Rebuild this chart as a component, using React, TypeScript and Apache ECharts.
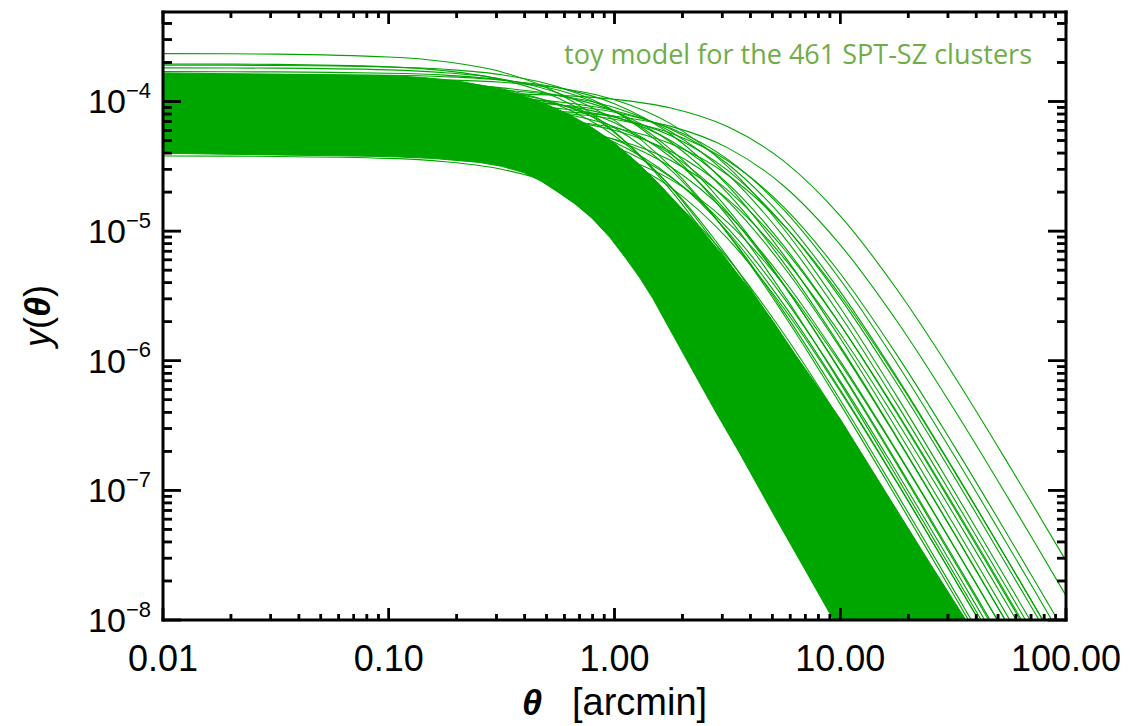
import React, { useEffect, useRef } from 'react';
import * as echarts from 'echarts';

// angular radius grid (arcmin) shared by every profile
const THETA = [0.01, 0.03162, 0.1, 0.1778, 0.3162, 0.5623, 1, 1.778, 3.162, 5.623, 10, 17.78, 31.62, 56.23, 100];

// log10 y(theta) of individual, visible cluster profiles
const profile01 = [-3.631, -3.635, -3.657, -3.693, -3.772, -3.936, -4.232, -4.686, -5.272, -5.943, -6.657, -7.392, -8.135];
const profile02 = [-3.711, -3.714, -3.733, -3.763, -3.831, -3.974, -4.24, -4.663, -5.227, -5.884, -6.592, -7.324, -8.066];
const profile03 = [-3.741, -3.743, -3.756, -3.778, -3.827, -3.935, -4.146, -4.505, -5.017, -5.643, -6.335, -7.059, -7.798, -8.545];
const profile04 = [-3.77, -3.772, -3.782, -3.797, -3.833, -3.912, -4.076, -4.372, -4.826, -5.412, -6.083, -6.797, -7.532, -8.275];
const profile05 = [-3.79, -3.791, -3.798, -3.809, -3.835, -3.893, -4.017, -4.255, -4.646, -5.185, -5.827, -6.528, -7.256, -7.997, -8.745];
const profile06 = [-3.801, -3.804, -3.819, -3.845, -3.903, -4.027, -4.265, -4.656, -5.195, -5.837, -6.538, -7.266, -8.007];
const profile07 = [-3.82, -3.821, -3.826, -3.834, -3.852, -3.894, -3.987, -4.173, -4.5, -4.984, -5.591, -6.273, -6.993, -7.73, -8.475];
const profile08 = [-3.93, -3.93, -3.931, -3.934, -3.94, -3.953, -3.983, -4.051, -4.194, -4.46, -4.883, -5.447, -6.104, -6.812, -7.544];
const profile09 = [-4.05, -4.05, -4.052, -4.055, -4.062, -4.077, -4.113, -4.192, -4.356, -4.652, -5.106, -5.692, -6.363, -7.077, -7.812];
const profile10 = [-4.05, -4.051, -4.053, -4.057, -4.066, -4.088, -4.137, -4.245, -4.456, -4.815, -5.327, -5.953, -6.645, -7.369, -8.108];
const profile11 = [-4.1, -4.101, -4.104, -4.108, -4.119, -4.145, -4.203, -4.327, -4.565, -4.956, -5.495, -6.137, -6.838, -7.566, -8.307];
const profile12 = [-4.15, -4.151, -4.155, -4.162, -4.177, -4.213, -4.292, -4.456, -4.752, -5.206, -5.792, -6.463, -7.177, -7.912, -8.655];
const profile13 = [-3.95, -3.951, -3.954, -3.96, -3.973, -4.003, -4.071, -4.214, -4.48, -4.903, -5.467, -6.124, -6.832, -7.564, -8.306];
const profile14 = [-4.0, -4.001, -4.007, -4.016, -4.038, -4.087, -4.195, -4.406, -4.765, -5.277, -5.903, -6.595, -7.319, -8.058];
const profile15 = [-4.1, -4.101, -4.107, -4.116, -4.138, -4.187, -4.295, -4.506, -4.865, -5.377, -6.003, -6.695, -7.419, -8.158];
const profile16 = [-4.05, -4.051, -4.06, -4.073, -4.103, -4.171, -4.314, -4.58, -5.003, -5.567, -6.224, -6.932, -7.664, -8.406];
const profile17 = [-3.9, -3.901, -3.91, -3.923, -3.953, -4.021, -4.164, -4.43, -4.853, -5.417, -6.074, -6.782, -7.514, -8.256];
const profile18 = [-4.2, -4.201, -4.208, -4.219, -4.245, -4.303, -4.427, -4.665, -5.056, -5.595, -6.237, -6.938, -7.666, -8.407];
const profile19 = [-3.95, -3.951, -3.956, -3.964, -3.982, -4.024, -4.117, -4.303, -4.63, -5.114, -5.721, -6.403, -7.123, -7.86, -8.605];
const profile20 = [-4.15, -4.152, -4.162, -4.177, -4.213, -4.292, -4.456, -4.752, -5.206, -5.792, -6.463, -7.177, -7.912, -8.655];
const profile21 = [-3.85, -3.852, -3.864, -3.882, -3.924, -4.017, -4.203, -4.53, -5.014, -5.621, -6.303, -7.023, -7.76, -8.505];
const profile22 = [-4.421, -4.424, -4.439, -4.465, -4.523, -4.647, -4.885, -5.276, -5.815, -6.457, -7.158, -7.886, -8.627];
const profile23 = [-3.85, -3.851, -3.858, -3.869, -3.895, -3.953, -4.077, -4.315, -4.706, -5.245, -5.887, -6.588, -7.316, -8.057];
const profile24 = [-3.98, -3.981, -3.984, -3.988, -3.999, -4.025, -4.083, -4.207, -4.445, -4.836, -5.375, -6.017, -6.718, -7.446, -8.187];
const profile25 = [-4.08, -4.081, -4.085, -4.092, -4.107, -4.143, -4.222, -4.386, -4.682, -5.136, -5.722, -6.393, -7.107, -7.842, -8.585];
const profile26 = [-3.88, -3.881, -3.886, -3.894, -3.912, -3.954, -4.047, -4.233, -4.56, -5.044, -5.651, -6.333, -7.053, -7.79, -8.535];
const profile27 = [-4.25, -4.251, -4.256, -4.264, -4.282, -4.324, -4.417, -4.603, -4.93, -5.414, -6.021, -6.703, -7.423, -8.16];
const profile28 = [-3.72, -3.722, -3.734, -3.752, -3.794, -3.887, -4.073, -4.4, -4.884, -5.491, -6.173, -6.893, -7.63, -8.375];
const profile29 = [-4.0, -4.001, -4.004, -4.01, -4.023, -4.053, -4.121, -4.264, -4.53, -4.953, -5.517, -6.174, -6.882, -7.614, -8.356];
const profile30 = [-4.12, -4.121, -4.128, -4.139, -4.165, -4.223, -4.347, -4.585, -4.976, -5.515, -6.157, -6.858, -7.586, -8.327];

const PROFILES = [
  profile01, profile02, profile03, profile04, profile05, profile06, profile07, profile08,
  profile09, profile10, profile11, profile12, profile13, profile14, profile15, profile16,
  profile17, profile18, profile19, profile20, profile21, profile22, profile23, profile24,
  profile25, profile26, profile27, profile28, profile29, profile30,
];

// outline of the region where the 461 profiles overlap into solid colour
const BAND_UPPER_THETA = [
  0.01, 0.1, 0.1413, 0.1995, 0.2661, 0.3548, 0.4732, 0.631, 0.7943, 1, 1.259, 1.585, 1.995,
  2.512, 3.162, 3.981, 5.012, 6.31, 7.943, 10, 13.34, 17.78, 25.12, 36.06,
];
const BAND_UPPER_LOGY = [
  -3.78, -3.8, -3.815, -3.84, -3.88, -3.93, -4.005, -4.1, -4.2, -4.32, -4.47, -4.64, -4.83,
  -5.02, -5.23, -5.45, -5.69, -5.95, -6.2, -6.45, -6.8, -7.15, -7.57, -8.0,
];
const BAND_LOWER_THETA = [
  9.333, 7.079, 5.012, 3.548, 2.818, 2.344, 1.995, 1.698, 1.479, 1.288, 1.122, 0.955,
  0.7943, 0.6683, 0.5623, 0.4732, 0.3981, 0.3162, 0.2512, 0.1585, 0.1, 0.01,
];
const BAND_LOWER_LOGY = [
  -8.0, -7.63, -7.17, -6.7, -6.4, -6.15, -5.93, -5.71, -5.52, -5.355, -5.21, -5.05,
  -4.9, -4.79, -4.7, -4.615, -4.55, -4.5, -4.47, -4.44, -4.425, -4.4,
];

const X_MAJOR = [0.01, 0.1, 1, 10, 100];
const X_MINOR = [
  0.02, 0.03, 0.04, 0.05, 0.06, 0.07, 0.08, 0.09,
  0.2, 0.3, 0.4, 0.5, 0.6, 0.7, 0.8, 0.9,
  2, 3, 4, 5, 6, 7, 8, 9,
  20, 30, 40, 50, 60, 70, 80, 90,
];
const Y_MAJOR = [1e-8, 1e-7, 1e-6, 1e-5, 1e-4];
const Y_MINOR = [
  2e-8, 3e-8, 4e-8, 5e-8, 6e-8, 7e-8, 8e-8, 9e-8,
  2e-7, 3e-7, 4e-7, 5e-7, 6e-7, 7e-7, 8e-7, 9e-7,
  2e-6, 3e-6, 4e-6, 5e-6, 6e-6, 7e-6, 8e-6, 9e-6,
  2e-5, 3e-5, 4e-5, 5e-5, 6e-5, 7e-5, 8e-5, 9e-5,
  2e-4, 3e-4, 4e-4,
];
const X_RANGE = [0.01, 100];
const Y_RANGE = [1e-8, 4.9e-4];

const TITLE = 'toy model for the 461 SPT-SZ clusters';
const X_NAME = '{t|θ}{a|[arcmin]}';
const Y_NAME = '{i|y}{p|(}{t|θ}{p|)}';

const GREEN = '#00A600';
const TITLE_GREEN = '#70AD47';
const FONT = '"Liberation Sans", Arial, sans-serif';
const TICK_W = 2.5;
const TICK_COLOR = '#000';

// inward x ticks mirrored on bottom and top edges
function xTickSeries(vals: number[], len: number) {
  return {
    type: 'custom',
    clip: false,
    silent: true,
    z: 10,
    data: vals.map((v) => [v, Y_RANGE[0]]),
    renderItem: (params: any, api: any) => {
      const cs = params.coordSys;
      const px = api.coord([api.value(0), Y_RANGE[0]])[0];
      return {
        type: 'group',
        children: [
          { type: 'rect', shape: { x: px - TICK_W / 2, y: cs.y + cs.height - len, width: TICK_W, height: len }, style: { fill: TICK_COLOR } },
          { type: 'rect', shape: { x: px - TICK_W / 2, y: cs.y, width: TICK_W, height: len }, style: { fill: TICK_COLOR } },
        ],
      };
    },
  };
}

// inward y ticks mirrored on left and right edges
function yTickSeries(vals: number[], len: number) {
  return {
    type: 'custom',
    clip: false,
    silent: true,
    z: 10,
    data: vals.map((v) => [1, v]),
    renderItem: (params: any, api: any) => {
      const cs = params.coordSys;
      const py = api.coord([1, api.value(1)])[1];
      return {
        type: 'group',
        children: [
          { type: 'rect', shape: { x: cs.x, y: py - TICK_W / 2, width: len, height: TICK_W }, style: { fill: TICK_COLOR } },
          { type: 'rect', shape: { x: cs.x + cs.width - len, y: py - TICK_W / 2, width: len, height: TICK_W }, style: { fill: TICK_COLOR } },
        ],
      };
    },
  };
}

export default function App() {
  const ref = useRef<HTMLDivElement>(null);

  useEffect(() => {
    if (!ref.current) return;
    const chart = echarts.init(ref.current, null, { renderer: 'svg' });

    const lineSeries = PROFILES.map((p) => ({
      type: 'line',
      data: p.map((ly, i) => [THETA[i], Math.pow(10, ly)]),
      showSymbol: false,
      symbol: 'none',
      smooth: 0.35,
      clip: true,
      silent: true,
      lineStyle: { color: GREEN, width: 1.1 },
      z: 3,
    }));

    const bandSeries = {
      type: 'custom',
      clip: false,
      silent: true,
      z: 2,
      data: [[1, 1e-5]],
      renderItem: (_params: any, api: any) => {
        const pts: number[][] = [];
        BAND_UPPER_THETA.forEach((t, i) => pts.push(api.coord([t, Math.pow(10, BAND_UPPER_LOGY[i])])));
        BAND_LOWER_THETA.forEach((t, i) => pts.push(api.coord([t, Math.pow(10, BAND_LOWER_LOGY[i])])));
        return {
          type: 'polygon',
          shape: { points: pts },
          style: { fill: GREEN, stroke: GREEN, lineWidth: 1 },
        };
      },
    };

    const frameSeries = {
      type: 'custom',
      clip: false,
      silent: true,
      z: 11,
      data: [[1, 1e-5]],
      renderItem: (params: any) => {
        const cs = params.coordSys;
        const f = (x: number, y: number, w: number, h: number) => ({
          type: 'rect',
          shape: { x, y, width: w, height: h },
          style: { fill: '#000' },
        });
        return {
          type: 'group',
          children: [
            f(cs.x - 1.5, cs.y - 1.5, cs.width + 3, 3),
            f(cs.x - 1.5, cs.y + cs.height - 1.5, cs.width + 3, 3),
            f(cs.x - 1.5, cs.y - 1.5, 3, cs.height + 3),
            f(cs.x + cs.width - 1.5, cs.y - 1.5, 3, cs.height + 3),
          ],
        };
      },
    };

    const titleGraphic = {
      type: 'text',
      x: 1032,
      y: 53,
      silent: true,
      style: {
        text: TITLE,
        fill: TITLE_GREEN,
        fontSize: 27,
        fontFamily: '"Open Sans", sans-serif',
        align: 'right',
        verticalAlign: 'middle',
      },
    };

    chart.setOption({
      animation: false,
      backgroundColor: '#fff',
      grid: { left: 163, top: 12, width: 903, height: 608, containLabel: false, outerBoundsMode: 'none' },
      xAxis: {
        type: 'log',
        logBase: 10,
        min: X_RANGE[0],
        max: X_RANGE[1],
        position: 'bottom',
        axisLine: { show: false },
        axisTick: { show: false },
        axisLabel: {
          show: true,
          customValues: X_MAJOR,
          formatter: (v: number) => v.toFixed(2),
          margin: 20,
          fontSize: 36,
          fontFamily: FONT,
          color: '#000',
        },
        splitLine: { show: false },
        minorTick: { show: false },
        name: X_NAME,
        nameLocation: 'middle',
        nameGap: 63,
        nameTextStyle: {
          color: '#000',
          rich: {
            t: { fontSize: 36, fontFamily: FONT, fontStyle: 'italic', fontWeight: 'bold', color: '#000' },
            a: { fontSize: 38, fontFamily: FONT, color: '#000', padding: [0, 0, 0, 30] },
          },
        },
      },
      yAxis: {
        type: 'log',
        logBase: 10,
        min: Y_RANGE[0],
        max: Y_RANGE[1],
        position: 'left',
        axisLine: { show: false },
        axisTick: { show: false },
        axisLabel: {
          show: true,
          customValues: Y_MAJOR,
          formatter: (v: number) => {
            const e = Math.round(Math.log10(v));
            return '{b|10}{s|\u2212' + String(-e) + '}';
          },
          margin: 12,
          rich: {
            b: { fontSize: 34, fontFamily: FONT, color: '#000', lineHeight: 44 },
            s: { fontSize: 22, fontFamily: FONT, color: '#000', verticalAlign: 'top', lineHeight: 22 },
          },
        },
        splitLine: { show: false },
        minorTick: { show: false },
        name: Y_NAME,
        nameLocation: 'middle',
        nameGap: 108,
        nameRotate: 90,
        nameTextStyle: {
          color: '#000',
          rich: {
            i: { fontSize: 36, fontFamily: FONT, fontStyle: 'italic', color: '#000' },
            p: { fontSize: 36, fontFamily: FONT, color: '#000' },
            t: { fontSize: 36, fontFamily: FONT, fontStyle: 'italic', fontWeight: 'bold', color: '#000' },
          },
        },
      },
      graphic: [titleGraphic],
      series: [
        xTickSeries(X_MAJOR, 12),
        xTickSeries(X_MINOR, 6),
        yTickSeries(Y_MAJOR, 18),
        yTickSeries(Y_MINOR, 9),
        frameSeries,
        bandSeries,
        ...lineSeries,
      ],
    });

    // second pass of the same tick marks, placed with the chart's own pixel conversion
    const tickRects: any[] = [];
    const toPx = (p: number[]) => chart.convertToPixel({ gridIndex: 0 }, p) as number[];
    const bl = toPx([X_RANGE[0], Y_RANGE[0]]);
    const tr = toPx([X_RANGE[1], Y_RANGE[1]]);
    if (bl && tr && isFinite(bl[0]) && isFinite(tr[1])) {
      const addRect = (x: number, y: number, w: number, h: number) =>
        tickRects.push({ type: 'rect', silent: true, z: 50, shape: { x, y, width: w, height: h }, style: { fill: TICK_COLOR } });
      const xt = (vals: number[], len: number) =>
        vals.forEach((v) => {
          const px = toPx([v, Y_RANGE[0]])[0];
          addRect(px - TICK_W / 2, bl[1] - len, TICK_W, len);
          addRect(px - TICK_W / 2, tr[1], TICK_W, len);
        });
      const yt = (vals: number[], len: number) =>
        vals.forEach((v) => {
          const py = toPx([X_RANGE[0], v])[1];
          addRect(bl[0], py - TICK_W / 2, len, TICK_W);
          addRect(tr[0] - len, py - TICK_W / 2, len, TICK_W);
        });
      xt(X_MAJOR, 12);
      xt(X_MINOR, 6);
      yt(Y_MAJOR, 18);
      yt(Y_MINOR, 9);
      chart.setOption({ graphic: [titleGraphic, ...tickRects] }, { replaceMerge: ['graphic'] });
    }

    return () => chart.dispose();
  }, []);

  return (
    <div
      ref={ref}
      style={{ position: 'absolute', left: 0, top: 0, width: 1131, height: 726, background: '#fff' }}
    />
  );
}
